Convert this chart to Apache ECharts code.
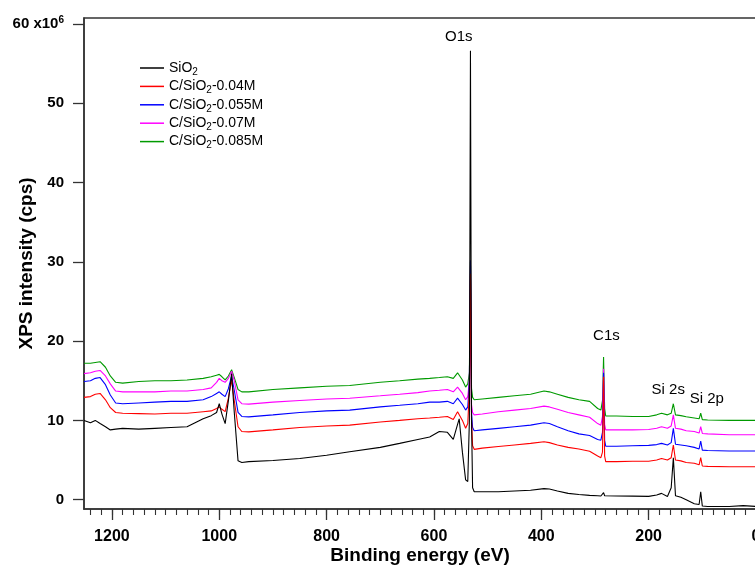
<!DOCTYPE html>
<html><head><meta charset="utf-8">
<script src="https://cdn.jsdelivr.net/npm/echarts@6/dist/echarts.min.js"></script>
<style>html,body{margin:0;padding:0;background:#fff}#c{width:755px;height:566px}</style>
</head><body><div id="c"></div>
<script>
// Binding energy (eV), shared by all spectra
const energy = [1252,1240,1231,1222,1212,1203,1193,1180,1150,1120,1090,1060,1030,1015,1005,1000,995,989,983,977,
  972,965,958,945,900,850,800,757,700,664,630,608,590,575,564,556,553,547,541,537,
  534,532,530,528,525,510,480,450,420,395,385,370,350,330,310,295,289,286,284,282,
  280,260,230,200,185,176,165,158,154,150,140,130,115,106,103,100,90,50,24,0];

// Intensities (x10^6 cps)
const sio2 = [10.0,9.7,10.0,9.6,9.2,8.8,8.9,9.0,8.9,9.0,9.1,9.2,10.2,10.6,11.0,12.1,10.8,9.6,12.5,15.9,
  11.0,4.9,4.7,4.8,4.95,5.2,5.6,6.05,6.6,7.1,7.6,7.9,8.6,8.5,7.6,9.5,10.2,6.0,2.5,2.3,
  10.0,56.6,10.0,1.5,1.0,1.0,1.0,1.1,1.2,1.4,1.35,1.1,0.8,0.65,0.55,0.5,0.47,0.5,0.9,0.5,
  0.47,0.46,0.45,0.42,0.6,0.8,0.4,1.5,5.3,0.5,0.3,0.0,-0.5,-0.6,1.0,-0.8,-0.85,-0.85,-0.75,-0.85];
const c004 = [12.9,13.0,13.3,13.4,12.6,11.6,11.0,10.9,10.85,10.8,10.9,10.9,11.1,11.2,11.5,11.7,11.4,11.1,12.8,15.1,
  12.5,9.2,8.6,8.55,8.8,9.1,9.3,9.4,9.8,10.0,10.2,10.3,10.4,10.5,10.1,11.1,10.9,10.0,9.0,9.6,
  14.0,28.5,10.0,6.8,6.35,6.5,6.7,6.9,7.1,7.3,7.2,6.9,6.6,6.4,6.1,5.5,5.3,6.0,15.5,5.5,
  4.8,4.8,4.85,4.85,5.0,5.2,5.0,5.3,6.9,5.0,4.9,4.7,4.6,4.4,5.3,4.25,4.2,4.15,4.15,4.15];
const c0055 = [14.9,15.0,15.3,15.4,14.5,13.2,12.2,12.1,12.2,12.3,12.4,12.4,12.6,13.0,13.4,13.6,13.3,13.0,14.0,15.6,
  13.8,11.0,10.5,10.45,10.7,11.0,11.2,11.3,11.7,11.9,12.1,12.3,12.3,12.4,12.1,12.8,12.6,12.0,11.3,11.7,
  15.0,30.2,11.0,9.1,8.7,8.8,9.0,9.2,9.4,9.7,9.6,9.2,8.7,8.3,8.1,7.6,7.5,8.5,16.0,7.5,
  6.75,6.75,6.8,6.85,6.95,7.1,6.9,7.2,9.0,7.0,6.9,6.8,6.6,6.4,7.4,6.25,6.2,6.15,6.15,6.15];
const c007 = [15.9,16.0,16.2,16.3,15.6,14.6,13.7,13.6,13.6,13.6,13.7,13.7,13.9,14.1,14.8,15.3,15.0,14.8,15.3,16.2,
  15.0,12.6,12.1,12.05,12.3,12.5,12.7,12.8,13.1,13.3,13.5,13.7,13.8,13.9,13.6,14.2,14.0,13.4,12.6,13.0,
  15.0,29.5,12.0,11.0,10.7,10.8,11.1,11.3,11.5,11.8,11.7,11.4,11.0,10.7,10.4,9.6,9.4,10.5,16.5,9.5,
  8.8,8.8,8.8,8.85,9.0,9.2,9.0,9.3,10.7,9.0,8.9,8.7,8.6,8.4,9.2,8.35,8.3,8.2,8.2,8.2];
const c0085 = [17.2,17.2,17.3,17.4,16.7,15.6,14.8,14.7,14.9,15.0,15.0,15.1,15.3,15.5,15.7,15.8,15.5,15.1,15.6,16.4,
  15.4,13.9,13.6,13.6,13.9,14.1,14.3,14.4,14.8,15.0,15.2,15.3,15.4,15.5,15.3,16.0,15.8,15.1,14.2,14.6,
  16.0,30.0,14.0,12.9,12.6,12.7,12.9,13.1,13.3,13.7,13.6,13.3,12.9,12.6,12.4,11.5,11.3,12.5,18.0,11.5,
  10.55,10.55,10.5,10.5,10.7,10.9,10.7,10.9,12.1,10.7,10.6,10.45,10.3,10.2,10.9,10.1,10.05,10.0,10.0,10.0];

const seriesNames = ['SiO2','C/SiO2-0.04M','C/SiO2-0.055M','C/SiO2-0.07M','C/SiO2-0.085M'];
const seriesColors = ['#000000','#ff0000','#0000ff','#ff00ff','#009a00'];
const seriesValues = [sio2, c004, c0055, c007, c0085];

// Peak annotations
const peakLabels = ['O1s','C1s','Si 2s','Si 2p'];
const peakE = [553.6, 278.7, 163.5, 91.7];
const peakI = [58.4, 20.7, 13.9, 12.7];

// Tick labels
const xMajorTicks = [0,200,400,600,800,1000,1200];
const xMinorTicks = []; for (let v = 0; v <= 1240; v += 20) xMinorTicks.push(v);
const yTicks = [0,10,20,30,40,50,60];

const FONT = "'Liberation Sans', Arial, Helvetica, sans-serif";
const AX = '#333';

const chart = echarts.init(document.getElementById('c'), null, {renderer:'canvas'});

const lineSeries = [];
for (let k = seriesNames.length - 1; k >= 0; k--) {
  lineSeries.push({
    name: seriesNames[k], type: 'line', xAxisIndex: 0, yAxisIndex: 0,
    data: energy.map((e, i) => [e, seriesValues[k][i]]),
    showSymbol: false, symbol: 'none', sampling: null,
    lineStyle: {color: seriesColors[k], width: 1.1},
    itemStyle: {color: seriesColors[k]},
    z: 2 + (seriesNames.length - k)
  });
}
lineSeries.push({
  type: 'scatter', xAxisIndex: 0, yAxisIndex: 0, silent: true, symbolSize: 0,
  itemStyle: {opacity: 1, color: '#000'},
  data: peakLabels.map((t, i) => [peakE[i], peakI[i], t]),
  label: {show: true, position: 'inside', formatter: p => p.data[2], opacity: 1,
    fontFamily: FONT, fontSize: 15, color: '#000000', textBorderWidth: 0},
  z: 20
});

const subName = n => '{n|' + n.replace('SiO2', 'SiO}{s|2}{n|') + '}';

chart.setOption({
  animation: false,
  backgroundColor: '#fff',
  grid: {left: 84, top: 18, right: -1, bottom: 57, show: true, borderColor: AX, borderWidth: 1.5,
    containLabel: false, outerBoundsMode: 'none'},
  legend: {
    orient: 'vertical', left: 135, top: 56, itemWidth: 24, itemHeight: 1.5, itemGap: 2.4, icon: 'rect',
    data: seriesNames, selectedMode: false,
    formatter: subName,
    textStyle: {fontFamily: FONT, color: '#000',
      rich: {n: {fontSize: 14, lineHeight: 18, fontFamily: FONT, color: '#000'},
             s: {fontSize: 10, lineHeight: 8, verticalAlign: 'bottom', fontFamily: FONT, color: '#000'}}}
  },
  xAxis: [{
    type: 'value', min: 0, max: 1252, inverse: true, position: 'bottom',
    splitLine: {show: false},
    axisLine: {show: true, onZero: false, lineStyle: {color: AX, width: 1.5}},
    axisTick: {show: true, customValues: xMajorTicks, length: 11, lineStyle: {color: AX, width: 1.3}},
    axisLabel: {customValues: xMajorTicks, formatter: v => String(v), margin: 20, fontSize: 16,
      fontWeight: 'bold', color: '#000', fontFamily: FONT, hideOverlap: false},
    name: 'Binding energy (eV)', nameLocation: 'middle', nameGap: 37, nameMoveOverlap: false,
    nameTextStyle: {fontSize: 19, fontWeight: 'bold', color: '#000', fontFamily: FONT}
  }, {
    type: 'value', min: 0, max: 1252, inverse: true, position: 'bottom', gridIndex: 0,
    splitLine: {show: false},
    axisLine: {show: false, onZero: false},
    axisTick: {show: true, customValues: xMinorTicks, length: 6, lineStyle: {color: AX, width: 1.1}},
    axisLabel: {show: false}
  }],
  yAxis: {
    type: 'value', min: -1.17, max: 60.73,
    splitLine: {show: false},
    axisLine: {show: true, onZero: false, lineStyle: {color: AX, width: 1.5}},
    axisTick: {show: true, customValues: yTicks, length: 11, lineStyle: {color: AX, width: 1.3}},
    axisLabel: {customValues: yTicks, margin: 20, color: '#000',
      formatter: v => v === 60 ? '{b|60 x10}{p|6}' : '{b|' + v + '}',
      rich: {b: {fontSize: 15, fontWeight: 'bold', lineHeight: 18, fontFamily: FONT, color: '#000'},
             p: {fontSize: 10, fontWeight: 'bold', lineHeight: 8, verticalAlign: 'top', fontFamily: FONT, color: '#000'}}},
    name: 'XPS intensity (cps)', nameLocation: 'middle', nameGap: 48, nameRotate: 90, nameMoveOverlap: false,
    nameTextStyle: {fontSize: 19, fontWeight: 'bold', color: '#000', fontFamily: FONT}
  },
  series: lineSeries
});
</script></body></html>
